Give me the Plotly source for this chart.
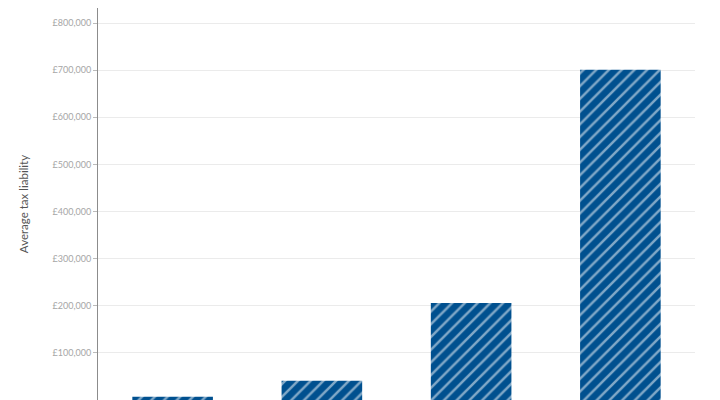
import plotly.graph_objects as go

# income groups (labels sit below the visible area in the reference)
groups = ["Group 1", "Group 2", "Group 3", "Group 4"]
avg_tax = [7000, 41000, 206000, 701000]

y_ticks = [100000, 200000, 300000, 400000, 500000, 600000, 700000, 800000]
y_labels = ["\u00a3{:,}".format(v) for v in y_ticks]


def main():
    fig = go.Figure()
    fig.add_trace(go.Bar(
        x=groups, y=avg_tax,
        width=0.54,
        marker=dict(
            color="#00508f",
            line=dict(width=0),
            pattern=dict(shape="/", fgcolor="#ffffff", bgcolor="#00508f",
                         size=9, solidity=0.28, fillmode="overlay"),
        ),
        hovertemplate="%{x}: \u00a3%{y:,.0f}<extra></extra>",
    ))

    fig.update_layout(
        width=720, height=400,
        margin=dict(l=90, r=33, t=0, b=8),
        plot_bgcolor="white", paper_bgcolor="white",
        showlegend=False,
        font=dict(family="Lato, sans-serif", color="#a6a6a6", size=9),
    )
    fig.update_yaxes(
        range=[0, 832000],
        tickvals=y_ticks, ticktext=y_labels,
        showgrid=True, gridcolor="#ebebeb", gridwidth=1,
        showline=True, linecolor="#8c8c8c", linewidth=1,
        ticks="outside", ticklen=4, tickcolor="#bbbbbb",
        zeroline=False,
        title=dict(text="Average tax liability", font=dict(size=11.5, color="#555555"), standoff=21),
    )
    fig.update_xaxes(
        showticklabels=False, showline=False, showgrid=False, ticks="",
    )

    fig.write_html("out.html")


if __name__ == '__main__':
    main()
